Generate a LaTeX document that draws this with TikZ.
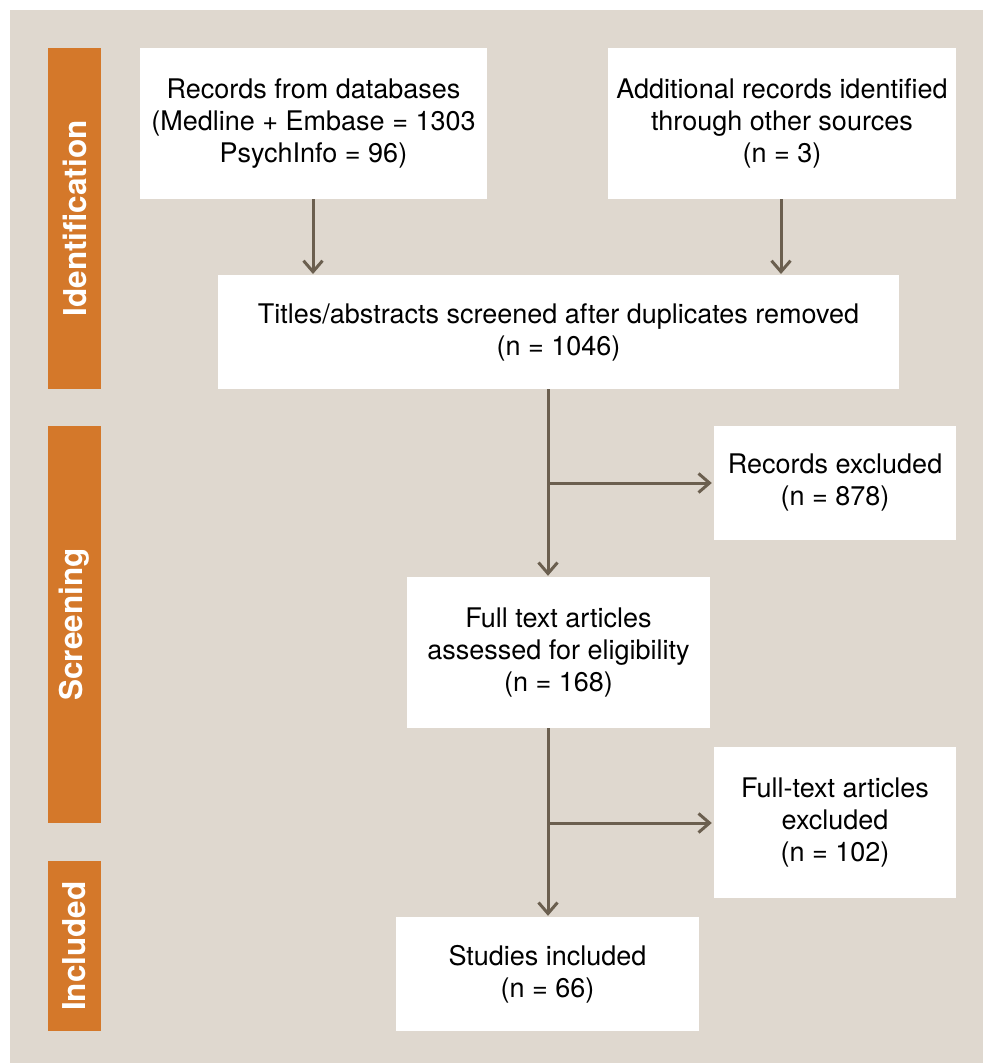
\documentclass[tikz,border=0pt]{standalone}
\usepackage{fontspec}
\setmainfont{TeX Gyre Heros}
\usetikzlibrary{arrows.meta}
\definecolor{panel}{HTML}{DFD8CF}
\definecolor{stage}{HTML}{D4782A}
\definecolor{flow}{HTML}{6B5F4F}
\tikzset{
  box/.style={fill=white, draw=none, inner sep=0pt, align=center,
    font=\fontsize{27}{32}\selectfont},
  stagebar/.style={fill=stage, draw=none, inner sep=0pt, rotate=90,
    text=white, font=\fontsize{31.5}{34}\selectfont\bfseries},
  flowarrow/.style={draw=flow, line width=3pt,
    -{Straight Barb[length=11pt,width=19pt,line width=3pt]}}
}
\begin{document}
\begin{tikzpicture}[x=1pt,y=-1pt]
\useasboundingbox (0,0) rectangle (983,1063);
\fill[panel] (10,10) rectangle (983,1063);

% stage labels on the left
\node[stagebar, minimum width=341pt, minimum height=53pt] (stageid) at (74.5,218.5) {Identification};
\node[stagebar, minimum width=397pt, minimum height=53pt] (stagescr) at (74.5,624.5) {Screening};
\node[stagebar, minimum width=170pt, minimum height=53pt] (stageinc) at (74.5,946) {Included};

% flow boxes
\node[box, minimum width=347pt, minimum height=151pt] (db) at (313.5,123.5)
  {Records from databases\\(Medline + Embase = 1303\\PsychInfo = 96)};
\node[box, minimum width=348pt, minimum height=151pt] (other) at (782,123.5)
  {Additional records identified\\through other sources\\(n = 3)};
\node[box, minimum width=681pt, minimum height=114pt] (tabs) at (558.5,332)
  {Titles/abstracts screened after duplicates removed\\(n = 1046)};
\node[box, minimum width=242pt, minimum height=114pt] (recex) at (835,483)
  {Records excluded\\(n = 878)};
\node[box, minimum width=303pt, minimum height=151pt] (full) at (558.5,652.5)
  {Full text articles\\assessed for eligibility\\(n = 168)};
\node[box, minimum width=242pt, minimum height=151pt] (ftex) at (835,822.5)
  {Full-text articles\\excluded\\(n = 102)};
\node[box, minimum width=303pt, minimum height=114pt] (studies) at (547.5,974)
  {Studies included\\(n = 66)};

% main vertical line of the flow
\coordinate (spine) at (548,0);
\coordinate (split1) at (548,483);
\coordinate (split2) at (548,823);

% connectors
\draw[flowarrow, shorten >=1pt] (db.south -| 313,0) -- (313,275);
\draw[flowarrow, shorten >=1pt] (other.south -| 781,0) -- (781,275);
\draw[flowarrow, shorten >=1pt] (tabs.south -| spine) -- (full.north -| spine);
\draw[flowarrow, shorten >=2pt] (split1) -- (recex.west |- split1);
\draw[flowarrow, shorten >=1pt] (full.south -| spine) -- (studies.north -| spine);
\draw[flowarrow, shorten >=2pt] (split2) -- (ftex.west |- split2);
\end{tikzpicture}
\end{document}
